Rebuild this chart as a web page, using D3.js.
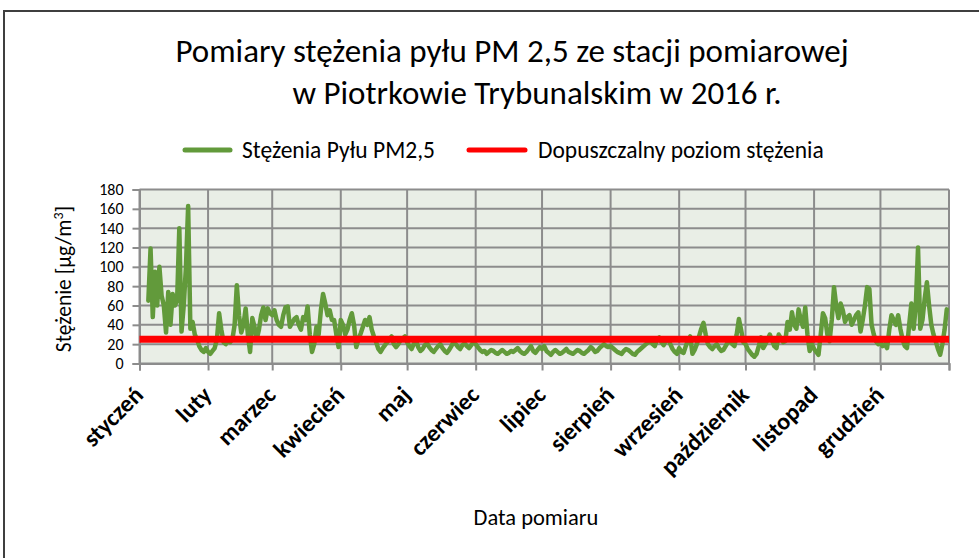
<!DOCTYPE html>
<html>
<head>
<meta charset="utf-8">
<script src="https://cdn.jsdelivr.net/npm/d3@7"></script>
<style>
  body { margin: 0; background: #fff; }
  svg { display: block; font-family: Carlito, Lato, "Open Sans", sans-serif; }
</style>
</head>
<body>
<div id="chart"></div>
<script>
let svgWidth = 979;
let svgHeight = 558;

// daily PM2.5 readings, 2016 (null = no measurement)
let jan = [null, null, null, null, 65, 119, 48, 95, 60, 100, 70, 60, 32, 74, 40, 72, 60, 65, 140, 33, 60, 100, 163, 36, 43, 30, 25, 18, 14, 12, 16];
let feb = [12, 10, 13, 16, 25, 52, 35, 22, 20, 24, 22, 25, 40, 81, 50, 32, 40, 57, 30, 12, 47, 38, 25, 35, 50, 58, 45, 57, 52];
let mar = [50, 55, 45, 40, 38, 50, 58, 59, 38, 42, 46, 48, 40, 35, 48, 45, 59, 30, 12, 20, 38, 30, 55, 72, 62, 50, 55, 45, 45, 30, 17];
let apr = [45, 40, 30, 35, 45, 52, 40, 17, 25, 31, 38, 45, 40, 48, 35, 28, 22, 15, 12, 16, 19, 22, 25, 28, 20, 17, 20, 24, 26, 28];
let may = [22, 18, 15, 20, 24, 17, 13, 15, 19, 21, 17, 14, 12, 15, 18, 20, 16, 13, 11, 14, 18, 22, 20, 17, 15, 19, 21, 18, 16, 19, 22];
let jun = [20, 17, 14, 12, 13, 10, 12, 14, 13, 11, 10, 12, 14, 12, 10, 11, 13, 12, 14, 16, 13, 11, 10, 12, 15, 18, 13, 11, 14, 17];
let jul = [15, 18, 13, 11, 9, 12, 14, 12, 10, 11, 13, 15, 12, 11, 10, 12, 14, 13, 11, 10, 12, 14, 17, 15, 12, 13, 16, 18, 20, 18, 17];
let aug = [18, 16, 14, 12, 11, 10, 13, 15, 14, 12, 10, 9, 12, 14, 16, 18, 20, 22, 24, 20, 18, 25, 27, 22, 19, 24, 26, 20, 15, 12, 10];
let sep = [16, 12, 11, 18, 24, 28, 10, 14, 20, 28, 36, 42, 30, 20, 17, 15, 18, 20, 16, 13, 14, 18, 22, 24, 20, 18, 30, 46, 35, 22];
let oct = [20, 15, 12, 9, 7, 10, 18, 27, 16, 20, 25, 30, 24, 18, 16, 30, 26, 22, 23, 43, 35, 53, 40, 36, 56, 45, 38, 58, 30, 13, 20];
let nov = [15, 12, 9, 30, 52, 47, 30, 23, 45, 79, 60, 47, 62, 55, 43, 48, 50, 40, 45, 50, 53, 33, 45, 60, 79, 77, 40, 30, 23, 20];
let dec = [22, 18, 20, 16, 35, 50, 45, 40, 50, 36, 25, 18, 16, 40, 62, 36, 60, 120, 36, 45, 67, 84, 60, 40, 30, 23, 15, 9, 20, 35, 56];

let months = ["styczeń", "luty", "marzec", "kwiecień", "maj", "czerwiec", "lipiec",
  "sierpień", "wrzesień", "październik", "listopad", "grudzień"];
let yTicks = [0, 20, 40, 60, 80, 100, 120, 140, 160, 180];
let limit = 25;

let margin = { top: 189.5, right: 30, bottom: 194.5, left: 139.5 };
let width = svgWidth - margin.left - margin.right;
let height = svgHeight - margin.top - margin.bottom;

let Data = [];
[jan, feb, mar, apr, may, jun, jul, aug, sep, oct, nov, dec].forEach(function(vals, m) {
  vals.forEach(function(v, i) {
    Data.push({ date: new Date(2016, m, i + 1), value: v });
  });
});

let svg = d3.select("#chart")
  .append("svg")
  .attr("width", svgWidth)
  .attr("height", svgHeight);

// outer frame
svg.append("rect")
  .attr("x", 4).attr("y", 11)
  .attr("width", 1000).attr("height", 600)
  .attr("fill", "none")
  .attr("stroke", "#3f3f3f")
  .attr("stroke-width", 2);

// title
let title = svg.append("text")
  .attr("font-size", 33)
  .attr("fill", "#000");
title.append("tspan").attr("x", 512).attr("y", 62).attr("text-anchor", "middle")
  .text("Pomiary stężenia pyłu PM 2,5 ze stacji pomiarowej");
title.append("tspan").attr("x", 537).attr("y", 104).attr("text-anchor", "middle")
  .text("w Piotrkowie Trybunalskim w 2016 r.");

// legend
let legend = svg.append("g").attr("font-size", 23.5);
legend.append("line")
  .attr("x1", 185).attr("x2", 230).attr("y1", 150).attr("y2", 150)
  .attr("stroke", "#629a3b").attr("stroke-width", 5).attr("stroke-linecap", "round");
legend.append("text").attr("x", 242).attr("y", 158).text("Stężenia Pyłu PM2,5");
legend.append("line")
  .attr("x1", 469).attr("x2", 525).attr("y1", 150).attr("y2", 150)
  .attr("stroke", "#ff0000").attr("stroke-width", 5).attr("stroke-linecap", "round");
legend.append("text").attr("x", 538).attr("y", 158).text("Dopuszczalny poziom stężenia");

let chartGroup = svg.append("g")
  .attr("transform", `translate(${margin.left}, ${margin.top})`);

let xTimeScale = d3.scaleTime()
  .domain([new Date(2016, 0, 1), new Date(2017, 0, 1)])
  .range([0, width]);

let yLinearScale = d3.scaleLinear()
  .domain([0, 180])
  .range([height, 0]);

let monthStarts = d3.timeMonth.range(new Date(2016, 0, 1), new Date(2017, 0, 2));

// plot background
chartGroup.append("rect")
  .attr("width", width).attr("height", height)
  .attr("fill", "#e9eee6");

// grid
chartGroup.append("g")
  .selectAll("line")
  .data(yTicks)
  .enter()
  .append("line")
  .attr("x1", 0).attr("x2", width)
  .attr("y1", d => yLinearScale(d)).attr("y2", d => yLinearScale(d))
  .attr("stroke", "#8c8c8c").attr("stroke-width", 2);

chartGroup.append("g")
  .selectAll("line")
  .data(monthStarts)
  .enter()
  .append("line")
  .attr("x1", d => xTimeScale(d)).attr("x2", d => xTimeScale(d))
  .attr("y1", 0).attr("y2", height)
  .attr("stroke", "#8c8c8c").attr("stroke-width", 2);

// axes
let leftAxis = d3.axisLeft(yLinearScale).tickValues(yTicks).tickSize(7).tickPadding(9);
let yAxis = chartGroup.append("g").call(leftAxis);
yAxis.select(".domain").attr("stroke", "#8c8c8c").attr("stroke-width", 2);
yAxis.selectAll(".tick line").attr("stroke", "#8c8c8c").attr("stroke-width", 2);
yAxis.selectAll("text").attr("font-size", 16).attr("fill", "#000")
  .attr("font-family", "Carlito, Lato, 'Open Sans', sans-serif");

let bottomAxis = d3.axisBottom(xTimeScale).tickValues(monthStarts).tickSize(7).tickFormat("");
let xAxis = chartGroup.append("g")
  .attr("transform", `translate(0, ${height})`)
  .call(bottomAxis);
xAxis.select(".domain").attr("stroke", "#8c8c8c").attr("stroke-width", 2);
xAxis.selectAll(".tick line").attr("stroke", "#8c8c8c").attr("stroke-width", 2);

// month labels
chartGroup.selectAll(".month")
  .data(monthStarts.slice(0, 12))
  .enter()
  .append("text")
  .attr("class", "month")
  .attr("transform", d => `translate(${xTimeScale(d) + 5}, ${height + 33}) rotate(-45)`)
  .attr("text-anchor", "end")
  .attr("font-size", 24)
  .attr("font-weight", "bold")
  .text((d, i) => months[i]);

// data line
let line = d3.line()
  .defined(d => d.value !== null)
  .x(d => xTimeScale(d.date))
  .y(d => yLinearScale(d.value));

chartGroup.append("path")
  .datum(Data)
  .attr("d", line)
  .attr("fill", "none")
  .attr("stroke", "#629a3b")
  .attr("stroke-width", 4.5)
  .attr("stroke-linejoin", "round")
  .attr("stroke-linecap", "round");

// limit line
chartGroup.append("line")
  .attr("x1", 0).attr("x2", width)
  .attr("y1", yLinearScale(limit)).attr("y2", yLinearScale(limit))
  .attr("stroke", "#ff0000")
  .attr("stroke-width", 7);

// y axis title
let yTitle = svg.append("text")
  .attr("transform", "translate(71, 279) rotate(-90)")
  .attr("text-anchor", "middle")
  .attr("font-size", 21.5);
yTitle.append("tspan").text("Stężenie [µg/m");
yTitle.append("tspan").attr("dy", -8).attr("font-size", 14).text("3");
yTitle.append("tspan").attr("dy", 8).text("]");

// x axis title
svg.append("text")
  .attr("x", 536).attr("y", 525)
  .attr("text-anchor", "middle")
  .attr("font-size", 22.5)
  .text("Data pomiaru");
</script>
</body>
</html>
